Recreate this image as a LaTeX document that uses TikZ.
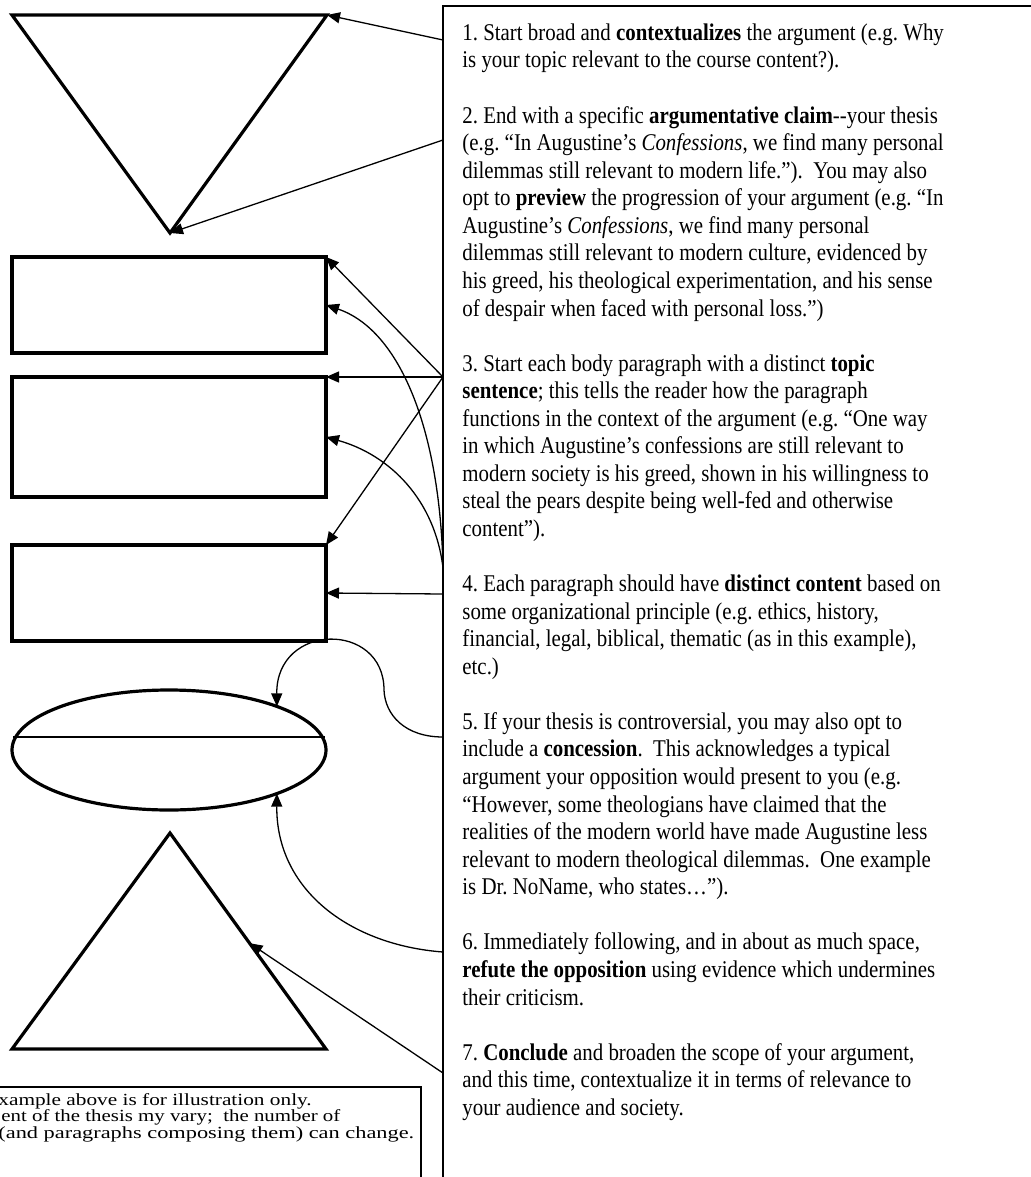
\documentclass[tikz,border=0pt]{standalone}
\usepackage{fontspec}
\setmainfont{Liberation Serif}[FakeStretch=0.87]
\newfontfamily\notefont{Liberation Serif}
\usepackage{graphicx}
\usetikzlibrary{arrows.meta,shapes.geometric,calc}

\begin{document}
\frenchspacing
\begin{tikzpicture}[x=0.5pt,y=-0.5pt,
  shp/.style={line width=1.6pt, line join=miter},
  shpbox/.style={draw, line width=1.6pt, rectangle, inner sep=0pt, outer sep=0pt, anchor=north west, minimum width=157pt},
  conn/.style={line width=0.65pt, -{Triangle[length=6.5pt,width=5.5pt]}},
  maintext/.style={anchor=north west, inner sep=0pt, align=left, font=\fontsize{12}{13.78}\selectfont},
  smalltext/.style={anchor=base west, inner sep=0pt, font=\notefont\fontsize{8.5}{8.3}\selectfont},
  ]
\clip (0,0) rectangle (1031,1177);
\fill[white] (0,0) rectangle (1031,1177);

% --- top inverted triangle
\coordinate (tl) at (12,15);
\coordinate (tr) at (327,15);
\coordinate (tb) at (170,233);
\draw[shp] (tl) -- (tr) -- (tb) -- cycle;

% --- body rectangles
\node[shpbox, minimum height=48pt] (r1) at (12,257) {};
\node[shpbox, minimum height=60pt] (r2) at (12,377) {};
\node[shpbox, minimum height=48pt] (r3) at (12,545) {};

% --- ellipse (concession / refutation)
\node[ellipse, draw, line width=1.6pt, inner sep=0pt, outer sep=0pt,
      minimum width=157pt, minimum height=60pt] (el) at (169,750) {};
\coordinate (elL) at (13,737);
\coordinate (elR) at (325,737);
\draw[line width=1pt] (elL) -- (elR);

% --- bottom triangle
\coordinate (bt) at (170,833);
\coordinate (bl) at (12,1049);
\coordinate (br) at (326,1049);
\draw[shp] (bt) -- (br) -- (bl) -- cycle;
\coordinate (bside) at ($(bt)!0.51!(br)$);

% --- text box
\draw[line width=1.35pt] (443,1200) -- (443,6) -- (1060,6);
\node[maintext] (txt) at (462,20.7) {\strut 1. Start broad and \textbf{contextualizes} the argument (e.g. Why\\
is your topic relevant to the course content?).\\[13.78pt]
2. End with a specific \textbf{argumentative claim}-{}-your thesis\\
(e.g. “In Augustine’s \textit{Confessions}, we find many personal\\
dilemmas still relevant to modern life.”).\ \ You may also\\
opt to \textbf{preview} the progression of your argument (e.g. “In\\
Augustine’s \textit{Confessions}, we find many personal\\
dilemmas still relevant to modern culture, evidenced by\\
his greed, his theological experimentation, and his sense\\
of despair when faced with personal loss.”)\\[13.78pt]
3. Start each body paragraph with a distinct \textbf{topic}\\
\textbf{sentence}; this tells the reader how the paragraph\\
functions in the context of the argument (e.g. “One way\\
in which Augustine’s confessions are still relevant to\\
modern society is his greed, shown in his willingness to\\
steal the pears despite being well-fed and otherwise\\
content”).\\[13.78pt]
4. Each paragraph should have \textbf{distinct content} based on\\
some organizational principle (e.g. ethics, history,\\
financial, legal, biblical, thematic (as in this example),\\
etc.)\\[13.78pt]
5. If your thesis is controversial, you may also opt to\\
include a \textbf{concession}.\ \ This acknowledges a typical\\
argument your opposition would present to you (e.g.\\
“However, some theologians have claimed that the\\
realities of the modern world have made Augustine less\\
relevant to modern theological dilemmas.\ \ One example\\
is Dr. NoName, who states…”).\\[13.78pt]
6. Immediately following, and in about as much space,\\
\textbf{refute the opposition} using evidence which undermines\\
their criticism.\\[13.78pt]
7. \textbf{Conclude} and broaden the scope of your argument,\\
and this time, contextualize it in terms of relevance to\\
your audience and society.};

% --- connector start points on the text box edge
\coordinate (s1) at (443,40);
\coordinate (s2) at (443,140);
\coordinate (s3) at (443,377);
\coordinate (s4) at (443,568);
\coordinate (s5) at (443,594);
\coordinate (s6) at (443,737);
\coordinate (sbend) at (384,690);
\coordinate (s7) at (443,952);
\coordinate (s8) at (443,1073);

% --- connectors
\draw[conn] (s1) -- (tr);
\draw[conn] (s2) -- (tb);
\draw[conn] (s3) -- (r1.north east);
\draw[conn] (s3) -- (r2.north east);
\draw[conn] (s3) -- (r3.north east);
\draw[conn] (s4) .. controls (440,430) and (400,330) .. (r1.east);
\draw[conn] (s4) .. controls (435,500) and (390,455) .. (r2.east);
\draw[conn] (s5) -- (r3.east);
\draw[conn] (s6) .. controls (405,737) and (385,715) .. (sbend)
                 .. controls (384,621) and (276,622) .. (el.22);
\draw[conn] (s7) .. controls (350,945) and (276,890) .. (el.-22);
\draw[conn] (s8) -- (bside);

% --- bottom note box (cut by the page edge)
\draw[line width=1.15pt] (-10,1087) -- (421,1087) -- (421,1200);
\node[smalltext] (n1) at (-2,1105) {\scalebox{1.253}[1]{xample above is for illustration only.}};
\node[smalltext] (n2) at (1,1121.7) {\scalebox{1.227}[1]{ent of the thesis my vary;\ \ the number of}};
\node[smalltext] (n3) at (-2,1138) {\scalebox{1.315}[1]{(and paragraphs composing them) can change.}};
\end{tikzpicture}
\end{document}
